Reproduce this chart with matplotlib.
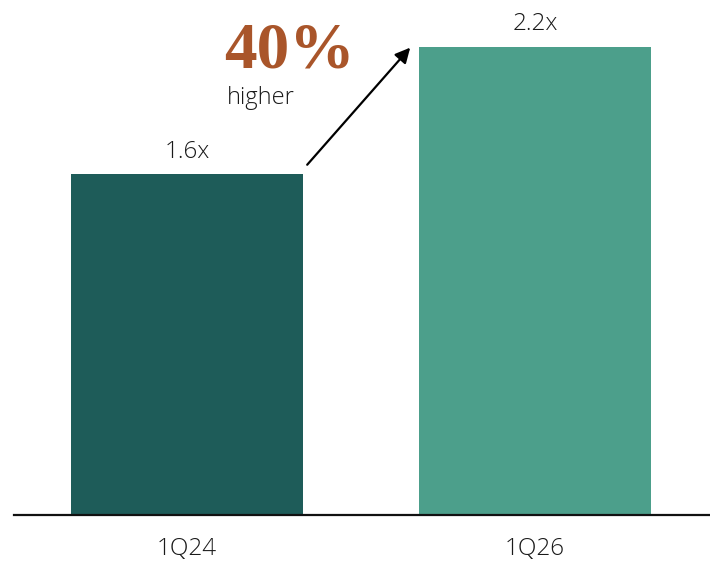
import matplotlib
matplotlib.use("Agg")
import matplotlib.pyplot as plt

categories = ["1Q24", "1Q26"]
values = [1.6, 2.2]
value_labels = ["1.6x", "2.2x"]
colors = ["#1E5C59", "#4C9F8B"]
headline = "40%"
subline = "higher"

W, H = 710, 566
fig = plt.figure(figsize=(W / 100, H / 100), dpi=100)
ax = fig.add_axes([14 / W, 51 / H, 696 / W, 511 / H])

x = list(range(len(categories)))
bw = 0.667
ax.bar(x, values, width=bw, color=colors, zorder=2)
ax.set_xlim(-0.497, 1.503)
ax.set_ylim(0, 2.4)

font = "Open Sans"
for xi, v, lab in zip(x, values, value_labels):
    ax.text(xi, v + 0.05, lab, ha="center", va="bottom", fontsize=17.5,
            family=font, fontweight="light", color="#1a1a1a")

for s in ["top", "right", "left"]:
    ax.spines[s].set_visible(False)
ax.spines["bottom"].set_linewidth(1.6)
ax.spines["bottom"].set_color("#111111")
ax.set_yticks([])
ax.set_xticks(x)
ax.set_xticklabels(categories, fontsize=17.5, family=font, fontweight="light", color="#1a1a1a")
ax.tick_params(axis="x", length=0, pad=16)

# arrow from bar 1 top-right to bar 2 top-left
ax.annotate("", xy=(x[1] - bw / 2 - 0.025, values[1] - 0.005),
            xytext=(x[0] + bw / 2 + 0.012, values[0] + 0.045),
            arrowprops=dict(arrowstyle="-|>,head_length=0.9,head_width=0.45",
                            color="black", lw=1.6, shrinkA=0, shrinkB=0))

fig.text(289 / W, 1 - 68 / H, headline, ha="center", va="baseline", fontsize=47,
         family="Liberation Serif", fontweight="bold", color="#A9552A")
fig.text(227 / W, 1 - 104 / H, subline, ha="left", va="baseline", fontsize=17,
         family=font, fontweight="light", color="#1a1a1a")

fig.savefig("out.png", dpi=100)
